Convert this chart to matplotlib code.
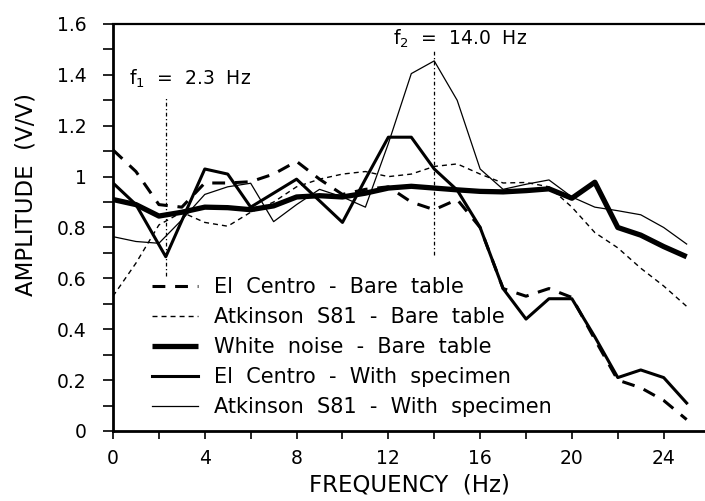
import matplotlib
matplotlib.use("Agg")
import matplotlib.pyplot as plt
from matplotlib.ticker import MultipleLocator, FuncFormatter

plt.rcParams['font.family'] = ['DejaVu Sans']

freq = list(range(26))

el_centro_bare = [1.105, 1.02, 0.89, 0.88, 0.975, 0.975, 0.98, 1.01, 1.06, 0.99,
                  0.93, 0.95, 0.96, 0.90, 0.87, 0.91, 0.80, 0.56, 0.53, 0.56,
                  0.525, 0.36, 0.20, 0.17, 0.12, 0.045]
atkinson_bare = [0.53, 0.66, 0.81, 0.86, 0.82, 0.805, 0.86, 0.90, 0.96, 0.99,
                 1.01, 1.02, 1.00, 1.01, 1.04, 1.05, 1.01, 0.975, 0.977, 0.96,
                 0.88, 0.78, 0.72, 0.64, 0.57, 0.49]
white_noise_bare = [0.91, 0.89, 0.845, 0.86, 0.88, 0.878, 0.87, 0.885, 0.92, 0.925,
                    0.92, 0.935, 0.955, 0.962, 0.955, 0.948, 0.942, 0.94, 0.945, 0.952,
                    0.915, 0.978, 0.80, 0.77, 0.725, 0.685]
freq_ec_spec = [0, 1, 2.3, 4, 5, 6, 7, 8, 9, 10, 11, 12, 13, 14, 15, 16, 17, 18,
                19, 20, 21, 22, 23, 24, 25]
el_centro_spec = [0.975, 0.89, 0.685, 1.03, 1.01, 0.88, 0.935, 0.99, 0.905, 0.82,
                  0.99, 1.155, 1.155, 1.03, 0.947, 0.80, 0.56, 0.44, 0.52, 0.52,
                  0.37, 0.21, 0.24, 0.21, 0.11]
atkinson_spec = [0.764, 0.745, 0.738, 0.83, 0.93, 0.96, 0.974, 0.823, 0.89, 0.95,
                 0.92, 0.88, 1.13, 1.405, 1.455, 1.30, 1.03, 0.95, 0.97, 0.987,
                 0.92, 0.88, 0.866, 0.85, 0.80, 0.735]

labels = ["El  Centro  -  Bare  table", "Atkinson  S81  -  Bare  table",
          "White  noise  -  Bare  table", "El  Centro  -  With  specimen",
          "Atkinson  S81  -  With  specimen"]

f1, f2 = 2.3, 14.0

fig = plt.figure(figsize=(7.05, 5.01), dpi=100)
ax = fig.add_axes([113/705, 1 - 431/501, 592/705, (431 - 24)/501])

ax.plot(freq, el_centro_bare, color='black', lw=2.2, dashes=(4.2, 3.2), label=labels[0])
ax.plot(freq, atkinson_bare, color='black', lw=1.0, dashes=(3.6, 2.9), label=labels[1])
ax.plot(freq, white_noise_bare, color='black', lw=3.8, solid_capstyle='butt', label=labels[2])
ax.plot(freq_ec_spec, el_centro_spec, color='black', lw=2.2, label=labels[3])
ax.plot(freq, atkinson_spec, color='black', lw=0.9, label=labels[4])

ax.plot([f1, f1], [0.61, 1.31], color='black', lw=0.9, dashes=(3, 2, 1, 2))
ax.plot([f2, f2], [0.69, 1.50], color='black', lw=0.9, dashes=(3, 2, 1, 2))
ax.text(0.7, 1.385, "f$_{1}$  =  2.3  Hz", fontsize=13.5, va='center', ha='left')
ax.text(12.2, 1.543, "f$_{2}$  =  14.0  Hz", fontsize=13.5, va='center', ha='left')

ax.set_xlim(0, 25.8)
ax.set_ylim(0, 1.6)
ax.xaxis.set_major_locator(MultipleLocator(4))
ax.xaxis.set_minor_locator(MultipleLocator(2))
ax.yaxis.set_major_locator(MultipleLocator(0.2))
ax.yaxis.set_minor_locator(MultipleLocator(0.1))
ax.yaxis.set_major_formatter(FuncFormatter(lambda v, p: f"{v:g}"))
ax.tick_params(axis='both', which='both', direction='out', labelsize=13.5, width=1.2)
ax.tick_params(axis='y', which='both', length=7, pad=12)
ax.tick_params(axis='x', which='both', length=6, pad=7)
ax.spines['right'].set_visible(False)
ax.spines['left'].set_linewidth(2.0)
ax.spines['bottom'].set_linewidth(2.0)
ax.spines['top'].set_linewidth(1.6)

ax.set_xlabel("FREQUENCY  (Hz)", fontsize=16.5, labelpad=4)
ax.set_ylabel("AMPLITUDE  (V/V)", fontsize=16.5)
ax.yaxis.set_label_coords(-0.127, 0.58)

leg = ax.legend(loc='upper left', bbox_to_anchor=(0.066, 0.378), frameon=False,
                fontsize=15, handlelength=2.2, handletextpad=0.77,
                labelspacing=0.48, borderpad=0, borderaxespad=0)

fig.savefig("out.png", dpi=100)
